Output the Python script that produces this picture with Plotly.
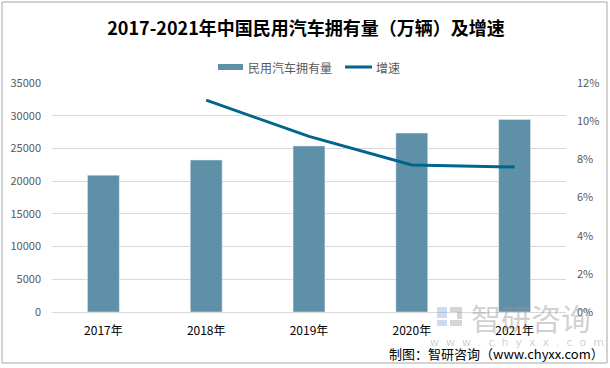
import plotly.graph_objects as go

years = ["2017年", "2018年", "2019年", "2020年", "2021年"]
ownership = [20907, 23231, 25376, 27341, 29419]
growth_years = ["2018年", "2019年", "2020年", "2021年"]
growth = [0.111, 0.092, 0.077, 0.076]
left_ticks = [0, 5000, 10000, 15000, 20000, 25000, 30000, 35000]
right_ticks = [0, 0.02, 0.04, 0.06, 0.08, 0.10, 0.12]

W, H = 610, 368
L, R, T, B = 52, 44, 83, 56
pw, ph = W - L - R, H - T - B

def px(x):
    return (x - L) / pw

def py(y):
    return (H - B - y) / ph

FONT = "Noto Sans CJK SC"
BAR = "#5E91A8"
LINE = "#00658A"
WM = "rgba(150,150,150,0.45)"
LOGO_B = "rgba(130,165,215,0.4)"
LOGO_G = "rgba(150,150,150,0.4)"

def rect(x0, x1, y0, y1, color):
    return dict(type="rect", xref="paper", yref="paper", x0=px(x0), x1=px(x1),
                y0=py(y1), y1=py(y0), line=dict(width=0), fillcolor=color)

fig = go.Figure()
fig.add_trace(go.Bar(x=years, y=ownership, name="民用汽车拥有量", marker_color=BAR,
                     width=0.31, yaxis="y", showlegend=False))
fig.add_trace(go.Scatter(x=growth_years, y=growth, name="增速", mode="lines",
                         line=dict(color=LINE, width=3), yaxis="y2", showlegend=False))

fig.update_layout(
    width=W, height=H,
    margin=dict(l=L, r=R, t=T, b=B, autoexpand=False),
    paper_bgcolor="white", plot_bgcolor="white",
    font=dict(family=FONT, size=11, color="#595959"),
    title=dict(text="<b>2017-2021年中国民用汽车拥有量（万辆）及增速</b>",
               x=px(306), xref="paper", xanchor="center",
               y=1 - 29 / H, yref="container", yanchor="middle",
               font=dict(family=FONT, size=18, color="#000000")),
    xaxis=dict(type="category", showgrid=False, showline=True, linecolor="#D9D9D9",
               linewidth=1, ticks="", ticklabelstandoff=8,
               tickfont=dict(family=FONT, size=12, color="#000000"),
               range=[-0.5, 4.5]),
    yaxis=dict(range=[0, 35000], tickvals=left_ticks, tickformat="d", showgrid=True,
               gridcolor="#D9D9D9", gridwidth=1, zeroline=False, showline=False, ticks="",
               ticklabelstandoff=10, tickfont=dict(size=11, color="#595959")),
    yaxis2=dict(range=[0, 0.12], tickvals=right_ticks, tickformat=".0%", overlaying="y",
                side="right", showgrid=False, zeroline=False, showline=False,
                ticks="", ticklabelstandoff=10, tickfont=dict(size=11, color="#595959")),
    shapes=[
        dict(type="rect", xref="paper", yref="paper", x0=px(2), x1=px(607),
             y0=py(363), y1=py(2), line=dict(color="#A6A6A6", width=1), layer="below"),
        # custom legend swatches
        rect(218, 243, 64, 70, BAR),
        dict(type="line", xref="paper", yref="paper", x0=px(345), x1=px(372),
             y0=py(67), y1=py(67), line=dict(color=LINE, width=3)),
        # watermark logo
        rect(437, 447, 307, 318, LOGO_B),
        rect(437, 447, 320, 326, LOGO_B),
        rect(450, 462, 307, 312, LOGO_G),
        rect(457, 462, 312, 319, LOGO_G),
        rect(450, 462, 320, 326, LOGO_G),
    ],
    annotations=[
        dict(text="民用汽车拥有量", xref="paper", yref="paper", x=px(246), y=py(67),
             xanchor="left", yanchor="middle", showarrow=False,
             font=dict(family=FONT, size=12, color="#595959")),
        dict(text="增速", xref="paper", yref="paper", x=px(374), y=py(67),
             xanchor="left", yanchor="middle", showarrow=False,
             font=dict(family=FONT, size=12, color="#595959")),
        dict(text="智研咨询", xref="paper", yref="paper", x=px(531), y=py(317),
             xanchor="center", yanchor="middle", showarrow=False,
             font=dict(family=FONT, size=30, color=WM)),
        dict(text="w  w  w  .  c  h  y  x  x  .  c  o  m", xref="paper", yref="paper",
             x=px(517), y=py(342), xanchor="center", yanchor="middle", showarrow=False,
             font=dict(family="DejaVu Sans", size=11, color=WM)),
        dict(text="制图：智研咨询（www.chyxx.com）", xref="paper", yref="paper", x=px(606), y=py(353),
             xanchor="right", yanchor="middle", showarrow=False,
             font=dict(family=FONT, size=13, color="#000000")),
    ],
)

fig.write_html("out.html", config={"displayModeBar": False},
               post_script="document.body.style.margin='0';document.body.style.overflow='hidden';")
